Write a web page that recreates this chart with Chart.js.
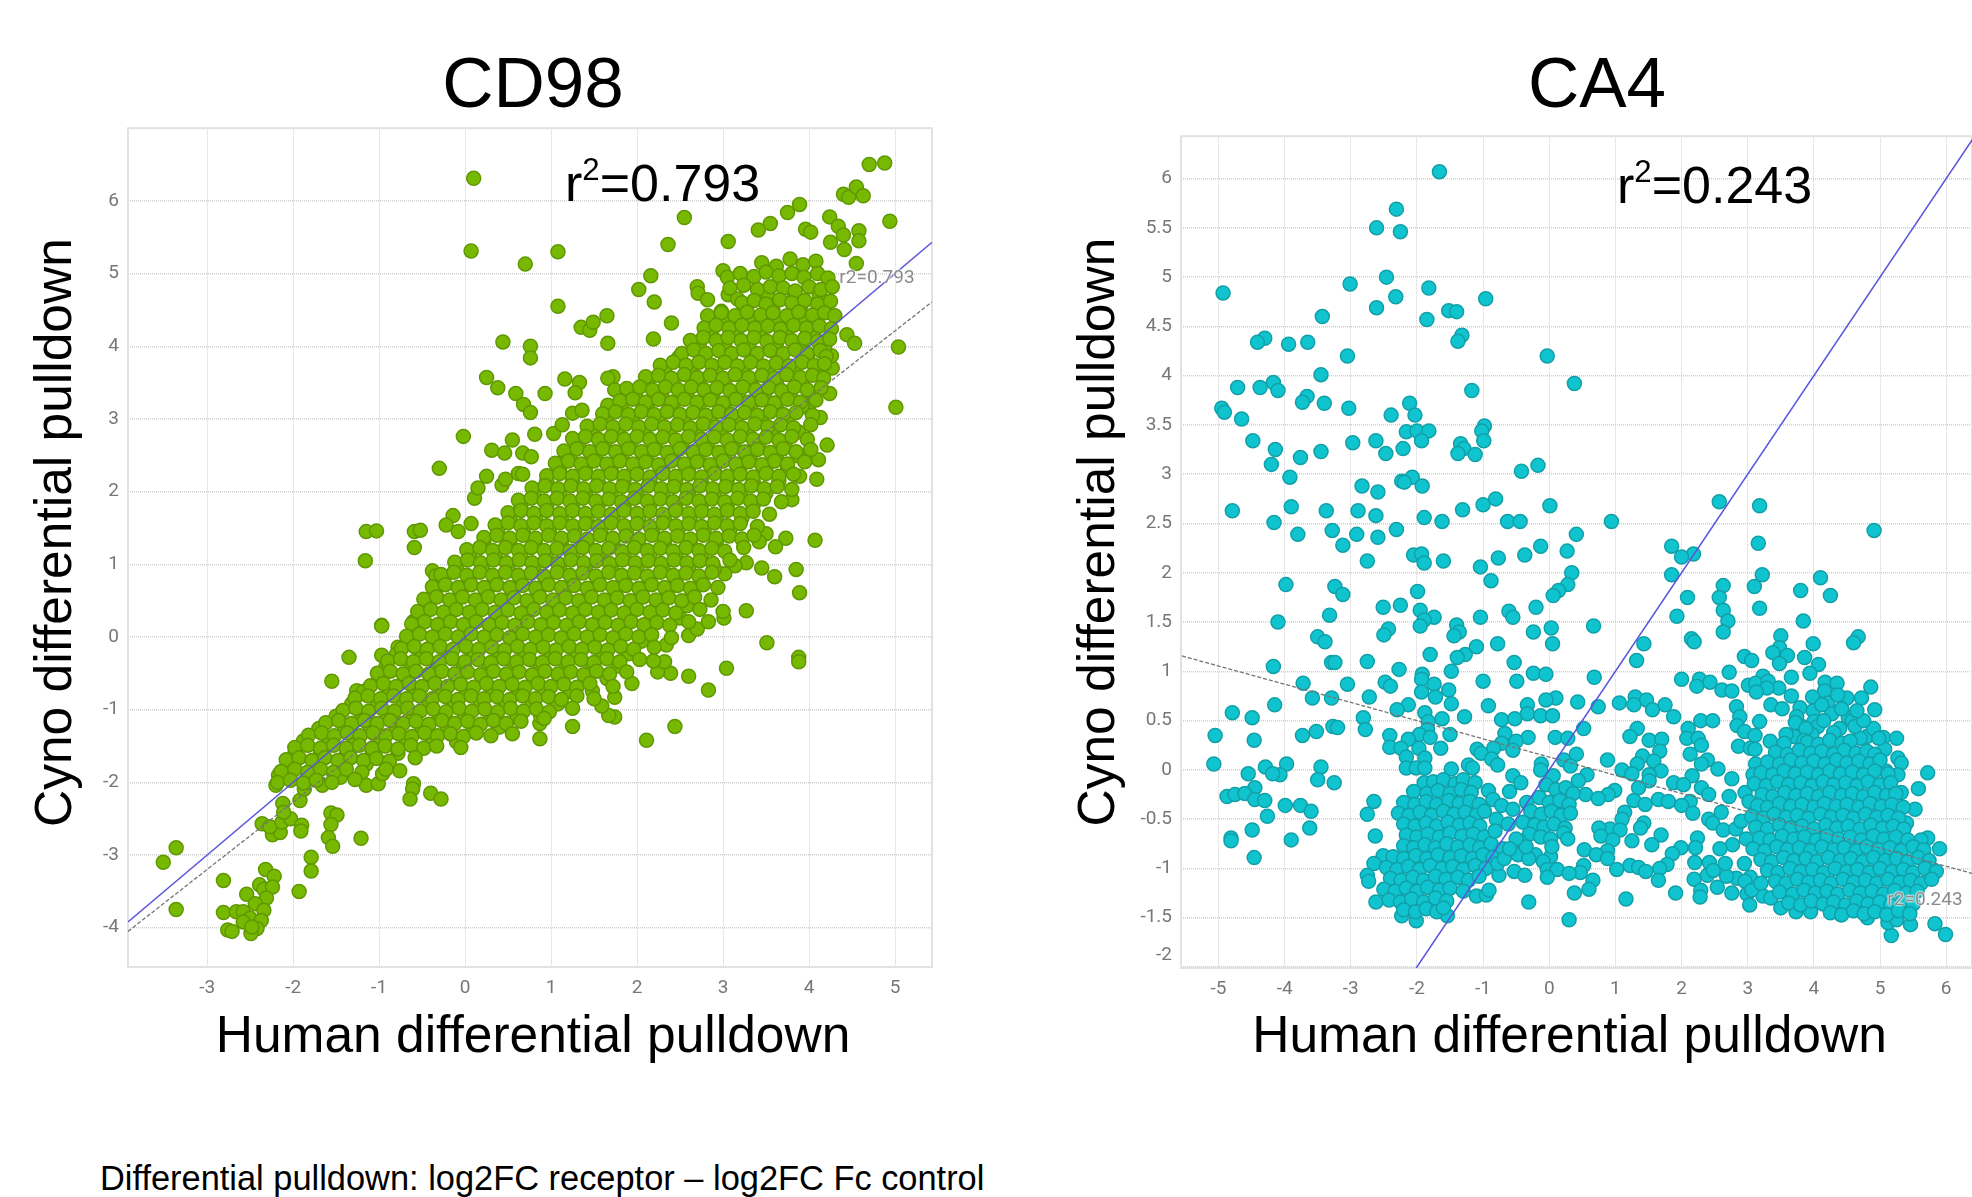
<!DOCTYPE html>
<html><head><meta charset="utf-8"><title>CD98 and CA4 differential pulldown</title>
<script src="https://cdn.jsdelivr.net/npm/chart.js@4"></script>
<style>
html,body{margin:0;padding:0;background:#fff;width:1972px;height:1197px;overflow:hidden}
canvas{position:absolute;top:0}
.big{position:absolute;font:52px/52px "Liberation Sans",Arial,sans-serif;color:#000;white-space:nowrap}
.big sup{font-size:.6em;line-height:0;vertical-align:baseline;position:relative;top:-.68em}
.small{position:absolute;font:19px "Roboto",sans-serif;color:#8a8a8a;transform:translate(-50%,-50%);white-space:nowrap;text-shadow:0 0 2px #fff,0 0 2px #fff,0 0 2px #fff}
.note{position:absolute;left:100px;top:1161px;font:34.4px/34px "Liberation Sans",Arial,sans-serif;color:#000;white-space:nowrap}
</style></head><body>
<canvas id="cd98" width="940" height="1080" style="left:0"></canvas>
<canvas id="ca4" width="932" height="1080" style="left:1040px"></canvas>
<div class="big" style="left:565px;top:157px">r<sup>2</sup>=0.793</div>
<div class="big" style="left:1617px;top:159px">r<sup>2</sup>=0.243</div>
<div class="small" style="left:877px;top:276px">r2=0.793</div>
<div class="small" style="left:1925px;top:898px">r2=0.243</div>
<div class="note">Differential pulldown: log2FC receptor – log2FC Fc control</div>
<script>
const cd98XTicks=[-3,-2,-1,0,1,2,3,4,5];
const cd98YTicks=[-4,-3,-2,-1,0,1,2,3,4,5,6];
const ca4XTicks=[-5,-4,-3,-2,-1,0,1,2,3,4,5,6];
const ca4YTicks=[-2,-1.5,-1,-0.5,0,0.5,1,1.5,2,2.5,3,3.5,4,4.5,5,5.5,6];
const cd98Identity=[[-3.92,-3.92],[5.43,5.43]];
const cd98Trend=[[-3.92,-4.05],[5.43,4.61]];
const ca4Identity=[[-2.01,-2.01],[6.43,6.43]];
const ca4Trend=[[-5.55,1.156],[6.39,-1.05]];
const cd98Outliers=[[.1,6.31],[.07,5.31],[1.08,5.3],[.7,5.13],[1.08,4.55],[.44,4.06],[.76,4],[.76,3.84],[.25,3.57],[.38,3.43],[.59,3.35],[.68,3.2],[.76,3.09],[.93,3.35],[1.16,3.55],[1.33,3.5],[1.28,3.36],[-.02,2.76],[-.3,2.32],[2.55,5.77],[2.36,5.4],[3.06,5.44],[2.16,4.97],[2.02,4.78],[2.2,4.61],[1.65,4.42],[1.35,4.26],[1.45,4.22],[1.49,4.33],[1.66,4.04],[2.4,4.32],[2.19,4.1],[4.7,6.5],[4.88,6.52],[4.4,6.09],[4.46,6.05],[4.55,6.19],[4.63,6.07],[3.89,5.95],[3.75,5.84],[3.55,5.69],[3.41,5.6],[4.94,5.72],[4.24,5.78],[3.96,5.61],[4.02,5.57],[4.34,5.65],[4.4,5.53],[4.58,5.59],[4.58,5.45],[4.41,5.33],[4.25,5.43],[5.04,3.99],[5.01,3.16],[4.44,4.16],[4.53,4.04],[4.55,5.14],[3,5.04],[2.7,4.82],[2.71,4.73],[2.82,4.64],[3.06,4.71],[3.17,4.65],[2.98,4.48],
[-1.15,1.45],[-1.03,1.46],[-.59,1.45],[-.52,1.47],[-.59,1.23],[-1.16,1.05],[-.97,.16],[-.6,.21],[-.14,1.67],[-.22,1.54],[-.08,1.45],[-.38,.91],[-.34,.84],[.07,1.56],[.11,1.91],[.15,2.05],[.25,2.21],[.43,2.09],[.47,2.17],[.62,2.25],[.67,2.24],[.31,2.57],[.46,2.53],[.55,2.71],[.67,2.53],[.77,2.48],[1.03,2.8],[.81,2.79],[1.13,2.92],[1.25,3.08],[1.36,3.12],[1.66,3.19],[1.72,3.58],[1.66,3.56],[1.74,3.4],
[4.07,1.33],[3.89,.61],[3.85,.93],[3.6,.83],[3.45,.95],[3.27,1.02],[3.14,.98],[3.02,.87],[3.73,1.36],[3.61,1.24],[3.5,1.42],[3.42,1.31],[3.27,.36],[3.01,.26],[3,.35],[4.09,2.17],[3.89,2.21],[4.11,2.44],[4.21,2.64],[4.13,3.02],[4.24,3.35],[4.27,3.7],[4.26,3.87],[3.8,1.89],[3.99,3.15],
[3.51,-.08],[3.88,-.28],[3.88,-.34],[3.04,-.43],[2.6,-.54],[2.39,-.5],[2.83,-.73],[2.44,-1.23],[2.11,-1.42],[1.25,-1.23],[.87,-1.4],[.87,-1.19],[1.74,-1.1],[1.67,-1.08],[1.59,-.95],[1.74,-.83],[1.94,-.64],[2.24,-.48],[2.32,-.34],[2.19,-.33],[2.34,-.11],[2.6,.02],[2.7,.11],[2.83,.21],[-1.35,-.28],[-1.55,-.61],[-1.26,-.74],[-.97,.15],[-.97,-.25],[-.79,-.25],[-.78,-.14],[-.6,.21],[-.6,-2.02],[-.61,-2.09],[-.64,-2.23],[-.4,-2.15],[-.28,-2.23],[-1.56,-2.42],[-1.49,-2.45],[-1.56,-2.58],[-1.59,-2.76],[-1.54,-2.88],[-1.21,-2.77],[-1.79,-3.03],[-1.79,-3.22],[-1.93,-3.5],[-2.32,-3.2],[-2.22,-3.29],[-2.39,-3.41],[-2.34,-3.47],[-2.24,-3.44],[-2.31,-3.59],[-2.54,-3.54],[-2.44,-3.67],[-2.81,-3.35],[-2.81,-3.79],[-2.66,-3.78],[-2.58,-3.78],[-2.34,-3.76],[-2.5,-3.87],[-2.58,-3.92],[-2.37,-3.9],[-2.76,-4.03],[-2.71,-4.05],[-2.42,-4.01],[-2.49,-4.08],[-2.48,-3.99],[-3.36,-2.9],[-3.51,-3.1],[-3.36,-3.75],[-2.36,-2.57],[-2.24,-2.72],[-2.15,-2.69],[-2.27,-2.61],[-2.13,-2.55],[-2.03,-2.5],[-1.9,-2.59],[-1.91,-2.67],[-2.12,-2.29],[-2.11,-2.41],[-1.92,-2.25],[-2.2,-2.04],[-2.17,-1.9],[-1.66,-2.04],[-1.87,-2.09],[-1.15,-2.04],[-1.01,-2.02],[-.96,-1.88],[-.76,-1.84],[-1.45,-1.93]];
const cd98Filler=[[3.52,4.72],[3.83,4.69],[4.12,4.71],[3.25,4.53],[3.58,4.51],[3.9,4.54],[4.18,4.52],[3.02,4.36],[3.33,4.35],[3.62,4.37],[3.95,4.34],[2.86,4.18],[3.15,4.19],[3.44,4.17],[3.74,4.2],[4.05,4.17],[2.72,4.01],[3.02,4.02],[3.3,4],[3.62,4.03],[3.92,4],[4.18,3.99],[2.48,3.84],[2.78,3.85],[3.08,3.83],[3.38,3.86],[3.68,3.84],[3.98,3.85],[2.32,3.67],[2.62,3.68],[2.92,3.66],[3.22,3.69],[3.52,3.67],[3.82,3.68],[4.12,3.66],[2.12,3.5],[2.42,3.51],[2.72,3.49],[3.02,3.52],[3.32,3.5],[3.62,3.51],[3.92,3.49],[1.98,3.33],[2.28,3.34],[2.58,3.32],[2.88,3.35],[3.18,3.33],[3.48,3.34],[3.78,3.32],[4.04,3.34],[1.82,3.16],[2.12,3.17],[2.42,3.15],[2.72,3.18],[3.02,3.16],[3.32,3.17],[3.62,3.15],[3.92,3.18],[1.65,2.99],[1.95,3],[2.25,2.98],[2.55,3.01],[2.85,2.99],[3.15,3],[3.45,2.98],[3.75,3.01],[1.48,2.82],[1.78,2.83],[2.08,2.81],[2.38,2.84],[2.68,2.82],[2.98,2.83],[3.28,2.81],[3.58,2.84],[3.88,2.82],[1.32,2.65],[1.62,2.66],[1.92,2.64],[2.22,2.67],[2.52,2.65],[2.82,2.66],[3.12,2.64],[3.42,2.67],[3.72,2.65],[1.22,2.48],[1.52,2.49],[1.82,2.47],[2.12,2.5],[2.42,2.48],[2.72,2.49],[3.02,2.47],[3.32,2.5],[3.62,2.48],[3.88,2.49],[1.1,2.31],[1.4,2.32],[1.7,2.3],[2,2.33],[2.3,2.31],[2.6,2.32],[2.9,2.3],[3.2,2.33],[3.5,2.31],[3.75,2.32],[.95,2.14],[1.25,2.15],[1.55,2.13],[1.85,2.16],[2.15,2.14],[2.45,2.15],[2.75,2.13],[3.05,2.16],[3.35,2.14],[3.65,2.15],[.8,1.97],[1.1,1.98],[1.4,1.96],[1.7,1.99],[2,1.97],[2.3,1.98],[2.6,1.96],[2.9,1.99],[3.2,1.97],[3.5,1.98],[.65,1.8],[.95,1.81],[1.25,1.79],[1.55,1.82],[1.85,1.8],[2.15,1.81],[2.45,1.79],[2.75,1.82],[3.05,1.8],[3.35,1.81],[.52,1.63],[.82,1.64],[1.12,1.62],[1.42,1.65],[1.72,1.63],[2.02,1.64],[2.32,1.62],[2.62,1.65],[2.92,1.63],[3.22,1.64],[.38,1.46],[.68,1.47],[.98,1.45],[1.28,1.48],[1.58,1.46],[1.88,1.47],[2.18,1.45],[2.48,1.48],[2.78,1.46],[3.08,1.47],[.22,1.29],[.52,1.3],[.82,1.28],[1.12,1.31],[1.42,1.29],[1.72,1.3],[2.02,1.28],[2.32,1.31],[2.62,1.29],[2.92,1.3],[.05,1.12],[.35,1.13],[.65,1.11],[.95,1.14],[1.25,1.12],[1.55,1.13],[1.85,1.11],[2.15,1.14],[2.45,1.12],[2.75,1.13],[-.1,.95],[.2,.96],[.5,.94],[.8,.97],[1.1,.95],[1.4,.96],[1.7,.94],[2,.97],[2.3,.95],[2.6,.96],[2.9,.94],[-.25,.78],[.05,.79],[.35,.77],[.65,.8],[.95,.78],[1.25,.79],[1.55,.77],[1.85,.8],[2.15,.78],[2.45,.79],[2.75,.77],[-.35,.61],[-.05,.62],[.25,.6],[.55,.63],[.85,.61],[1.15,.62],[1.45,.6],[1.75,.63],[2.05,.61],[2.35,.62],[2.65,.6],[-.42,.44],[-.12,.45],[.18,.43],[.48,.46],[.78,.44],[1.08,.45],[1.38,.43],[1.68,.46],[1.98,.44],[2.28,.45],[2.58,.43],[-.5,.27],[-.2,.28],[.1,.26],[.4,.29],[.7,.27],[1,.28],[1.3,.26],[1.6,.29],[1.9,.27],[2.2,.28],[2.5,.26],[-.58,.1],[-.28,.11],[.02,.09],[.32,.12],[.62,.1],[.92,.11],[1.22,.09],[1.52,.12],[1.82,.1],[2.12,.11],[-.65,-.07],[-.35,-.06],[-.05,-.08],[.25,-.05],[.55,-.07],[.85,-.06],[1.15,-.08],[1.45,-.05],[1.75,-.07],[2.05,-.06],[-.8,-.24],[-.5,-.23],[-.2,-.25],[.1,-.22],[.4,-.24],[.7,-.23],[1,-.25],[1.3,-.22],[1.6,-.24],[1.9,-.23],[-.92,-.41],[-.62,-.4],[-.32,-.42],[-.02,-.39],[.28,-.41],[.58,-.4],[.88,-.42],[1.18,-.39],[1.48,-.41],[1.78,-.4],[-1,-.58],[-.7,-.57],[-.4,-.59],[-.1,-.56],[.2,-.58],[.5,-.57],[.8,-.59],[1.1,-.56],[1.4,-.58],[1.65,-.57],[-1.18,-.75],[-.88,-.74],[-.58,-.76],[-.28,-.73],[.02,-.75],[.32,-.74],[.62,-.76],[.92,-.73],[1.22,-.75],[1.48,-.74],[-1.32,-.92],[-1.02,-.91],[-.72,-.93],[-.42,-.9],[-.12,-.92],[.18,-.91],[.48,-.93],[.78,-.9],[1.08,-.92],[-1.5,-1.09],[-1.2,-1.08],[-.9,-1.1],[-.6,-1.07],[-.3,-1.09],[0,-1.08],[.3,-1.1],[.6,-1.07],[.88,-1.09],[-1.7,-1.26],[-1.4,-1.25],[-1.1,-1.27],[-.8,-1.24],[-.5,-1.26],[-.2,-1.25],[.1,-1.27],[.4,-1.24],[-1.88,-1.43],[-1.58,-1.42],[-1.28,-1.44],[-.98,-1.41],[-.68,-1.43],[-.38,-1.42],[-.1,-1.44],[-1.98,-1.6],[-1.68,-1.59],[-1.38,-1.61],[-1.08,-1.58],[-.78,-1.6],[-2.05,-1.77],[-1.75,-1.76],[-1.45,-1.78],[-1.15,-1.75]];
const cd98Core=[[3.45,5.15],[3.62,5.1],[3.78,5.2],[3.93,5.12],[4.08,5.17],
[3.05,4.95],[3.2,5],[3.36,4.96],[3.5,5.02],[3.65,4.97],[3.8,5],[3.94,4.95],[4.1,5],[4.22,4.94],
[3.08,4.8],[3.24,4.84],[3.4,4.78],[3.55,4.82],[3.7,4.8],[3.84,4.76],[4,4.82],[4.14,4.78],[4.27,4.82],
[3.22,4.6],[3.36,4.63],[3.5,4.58],[3.66,4.64],[3.8,4.6],[3.95,4.63],[4.1,4.58],[4.25,4.62],
[2.82,4.42],[2.98,4.46],[3.14,4.42],[3.28,4.47],[3.44,4.43],[3.58,4.46],[3.74,4.42],[3.88,4.47],[4.04,4.43],[4.18,4.46],[4.3,4.42],
[2.78,4.25],[2.92,4.29],[3.07,4.25],[3.22,4.29],[3.37,4.25],[3.52,4.28],[3.67,4.24],[3.82,4.29],[3.97,4.25],[4.12,4.28],[4.26,4.24],
[2.62,4.08],[2.77,4.12],[2.92,4.08],[3.06,4.12],[3.21,4.08],[3.36,4.12],[3.51,4.07],[3.66,4.12],[3.8,4.08],[3.95,4.11],[4.1,4.07],[4.24,4.1],
[2.52,3.9],[2.66,3.95],[2.8,3.9],[2.95,3.94],[3.1,3.9],[3.24,3.95],[3.4,3.9],[3.55,3.94],[3.7,3.9],[3.84,3.95],[3.98,3.9],[4.13,3.94],[4.2,3.86],
[2.27,3.74],[2.42,3.78],[2.57,3.74],[2.72,3.78],[2.87,3.74],[3.02,3.78],[3.17,3.73],[3.32,3.78],[3.47,3.73],[3.62,3.77],[3.77,3.73],[3.92,3.78],[4.06,3.74],[4.18,3.76],
[2.1,3.58],[2.25,3.6],[2.4,3.56],[2.55,3.61],[2.7,3.57],[2.85,3.6],[3,3.56],[3.14,3.61],[3.3,3.57],[3.45,3.6],[3.6,3.56],[3.74,3.61],[3.9,3.57],[4.04,3.6],[4.17,3.56],
[1.88,3.42],[2.03,3.44],[2.18,3.4],[2.33,3.44],[2.48,3.4],[2.63,3.44],[2.78,3.4],[2.93,3.43],[3.08,3.39],[3.23,3.44],[3.38,3.4],[3.53,3.43],[3.68,3.39],[3.83,3.44],[3.98,3.4],[4.14,3.43],
[1.8,3.25],[1.95,3.27],[2.1,3.23],[2.25,3.27],[2.4,3.23],[2.55,3.27],[2.7,3.23],[2.85,3.26],[3,3.22],[3.15,3.27],[3.3,3.23],[3.45,3.26],[3.6,3.22],[3.75,3.27],[3.9,3.23],[4.08,3.26],
[1.6,3.07],[1.75,3.1],[1.9,3.06],[2.05,3.1],[2.2,3.06],[2.35,3.1],[2.5,3.06],[2.65,3.09],[2.8,3.05],[2.95,3.1],[3.1,3.06],[3.25,3.09],[3.4,3.05],[3.55,3.1],[3.7,3.06],[3.85,3.09],[4.04,3.05],
[1.42,2.9],[1.57,2.93],[1.72,2.89],[1.87,2.93],[2.02,2.89],[2.17,2.93],[2.32,2.89],[2.47,2.92],[2.62,2.88],[2.77,2.93],[2.92,2.89],[3.07,2.92],[3.22,2.88],[3.37,2.93],[3.52,2.89],[3.67,2.92],[3.82,2.88],[4.02,2.92],
[1.25,2.73],[1.4,2.76],[1.55,2.72],[1.7,2.76],[1.85,2.72],[2,2.76],[2.15,2.72],[2.3,2.75],[2.45,2.71],[2.6,2.76],[2.75,2.72],[2.9,2.75],[3.05,2.71],[3.2,2.76],[3.35,2.72],[3.5,2.75],[3.65,2.71],[3.8,2.76],[3.98,2.72],
[1.15,2.56],[1.3,2.59],[1.45,2.55],[1.6,2.59],[1.75,2.55],[1.9,2.59],[2.05,2.55],[2.2,2.58],[2.35,2.54],[2.5,2.59],[2.65,2.55],[2.8,2.58],[2.95,2.54],[3.1,2.59],[3.25,2.55],[3.4,2.58],[3.55,2.54],[3.7,2.59],[3.85,2.55],[4.02,2.58],
[1.05,2.39],[1.2,2.42],[1.35,2.38],[1.5,2.42],[1.65,2.38],[1.8,2.42],[1.95,2.38],[2.1,2.41],[2.25,2.37],[2.4,2.42],[2.55,2.38],[2.7,2.41],[2.85,2.37],[3,2.42],[3.15,2.38],[3.3,2.41],[3.45,2.37],[3.6,2.42],[3.75,2.38],[3.95,2.41],
[.95,2.22],[1.1,2.25],[1.25,2.21],[1.4,2.25],[1.55,2.21],[1.7,2.25],[1.85,2.21],[2,2.24],[2.15,2.2],[2.3,2.25],[2.45,2.21],[2.6,2.24],[2.75,2.2],[2.9,2.25],[3.05,2.21],[3.2,2.24],[3.35,2.2],[3.5,2.25],[3.65,2.21],[3.82,2.24],
[.78,2.05],[.93,2.08],[1.08,2.04],[1.23,2.08],[1.38,2.04],[1.53,2.08],[1.68,2.04],[1.83,2.07],[1.98,2.03],[2.13,2.08],[2.28,2.04],[2.43,2.07],[2.58,2.03],[2.73,2.08],[2.88,2.04],[3.03,2.07],[3.18,2.03],[3.33,2.08],[3.48,2.04],[3.63,2.07],[3.8,2.03],
[.62,1.88],[.77,1.91],[.92,1.87],[1.07,1.91],[1.22,1.87],[1.37,1.91],[1.52,1.87],[1.67,1.9],[1.82,1.86],[1.97,1.91],[2.12,1.87],[2.27,1.9],[2.42,1.86],[2.57,1.91],[2.72,1.87],[2.87,1.9],[3.02,1.86],[3.17,1.91],[3.32,1.87],[3.47,1.9],[3.68,1.86],
[.5,1.71],[.65,1.74],[.8,1.7],[.95,1.74],[1.1,1.7],[1.25,1.74],[1.4,1.7],[1.55,1.73],[1.7,1.69],[1.85,1.74],[2,1.7],[2.15,1.73],[2.3,1.69],[2.45,1.74],[2.6,1.7],[2.75,1.73],[2.9,1.69],[3.05,1.74],[3.2,1.7],[3.35,1.73],[3.54,1.69],
[.35,1.54],[.5,1.57],[.65,1.53],[.8,1.57],[.95,1.53],[1.1,1.57],[1.25,1.53],[1.4,1.56],[1.55,1.52],[1.7,1.57],[1.85,1.53],[2,1.56],[2.15,1.52],[2.3,1.57],[2.45,1.53],[2.6,1.56],[2.75,1.52],[2.9,1.57],[3.05,1.53],[3.2,1.56],[3.4,1.52],
[.22,1.37],[.37,1.4],[.52,1.36],[.67,1.4],[.82,1.36],[.97,1.4],[1.12,1.36],[1.27,1.39],[1.42,1.35],[1.57,1.4],[1.72,1.36],[1.87,1.39],[2.02,1.35],[2.17,1.4],[2.32,1.36],[2.47,1.39],[2.62,1.35],[2.77,1.4],[2.92,1.36],[3.07,1.39],[3.22,1.35],[3.36,1.4],
[.02,1.2],[.17,1.23],[.32,1.19],[.47,1.23],[.62,1.19],[.77,1.23],[.92,1.19],[1.07,1.22],[1.22,1.18],[1.37,1.23],[1.52,1.19],[1.67,1.22],[1.82,1.18],[1.97,1.23],[2.12,1.19],[2.27,1.22],[2.42,1.18],[2.57,1.23],[2.72,1.19],[2.87,1.22],[3.02,1.18],[3.24,1.23],
[-.12,1.03],[.03,1.06],[.18,1.02],[.33,1.06],[.48,1.02],[.63,1.06],[.78,1.02],[.93,1.05],[1.08,1.01],[1.23,1.06],[1.38,1.02],[1.53,1.05],[1.68,1.01],[1.83,1.06],[1.98,1.02],[2.13,1.05],[2.28,1.01],[2.43,1.06],[2.58,1.02],[2.73,1.05],[2.88,1.01],[3.08,1.06],
[-.28,.86],[-.13,.89],[.02,.85],[.17,.89],[.32,.85],[.47,.89],[.62,.85],[.77,.88],[.92,.84],[1.07,.89],[1.22,.85],[1.37,.88],[1.52,.84],[1.67,.89],[1.82,.85],[1.97,.88],[2.12,.84],[2.27,.89],[2.42,.85],[2.57,.88],[2.72,.84],[2.87,.89],
[-.38,.69],[-.23,.72],[-.08,.68],[.07,.72],[.22,.68],[.37,.72],[.52,.68],[.67,.71],[.82,.67],[.97,.72],[1.12,.68],[1.27,.71],[1.42,.67],[1.57,.72],[1.72,.68],[1.87,.71],[2.02,.67],[2.17,.72],[2.32,.68],[2.47,.71],[2.62,.67],[2.77,.72],[2.94,.68],
[-.48,.52],[-.33,.55],[-.18,.51],[-.03,.55],[.12,.51],[.27,.55],[.42,.51],[.57,.54],[.72,.5],[.87,.55],[1.02,.51],[1.17,.54],[1.32,.5],[1.47,.55],[1.62,.51],[1.77,.54],[1.92,.5],[2.07,.55],[2.22,.51],[2.37,.54],[2.52,.5],[2.67,.55],[2.86,.51],
[-.55,.35],[-.4,.38],[-.25,.34],[-.1,.38],[.05,.34],[.2,.38],[.35,.34],[.5,.37],[.65,.33],[.8,.38],[.95,.34],[1.1,.37],[1.25,.33],[1.4,.38],[1.55,.34],[1.7,.37],[1.85,.33],[2,.38],[2.15,.34],[2.3,.37],[2.45,.33],[2.73,.38],
[-.62,.18],[-.47,.21],[-.32,.17],[-.17,.21],[-.02,.17],[.13,.21],[.28,.17],[.43,.2],[.58,.16],[.73,.21],[.88,.17],[1.03,.2],[1.18,.16],[1.33,.21],[1.48,.17],[1.63,.2],[1.78,.16],[1.93,.21],[2.08,.17],[2.23,.2],[2.38,.16],[2.6,.21],
[-.68,.01],[-.53,.04],[-.38,0],[-.23,.04],[-.08,0],[.07,.04],[.22,0],[.37,.03],[.52,-.01],[.67,.04],[.82,0],[.97,.03],[1.12,-.01],[1.27,.04],[1.42,0],[1.57,.03],[1.72,-.01],[1.87,.04],[2.02,0],[2.17,.03],[2.4,-.01],
[-.74,-.16],[-.59,-.13],[-.44,-.17],[-.29,-.13],[-.14,-.17],[.01,-.13],[.16,-.17],[.31,-.14],[.46,-.18],[.61,-.13],[.76,-.17],[.91,-.14],[1.06,-.18],[1.21,-.13],[1.36,-.17],[1.51,-.14],[1.66,-.18],[1.81,-.13],[1.96,-.17],[2.2,-.14],
[-.9,-.33],[-.75,-.3],[-.6,-.34],[-.45,-.3],[-.3,-.34],[-.15,-.3],[0,-.34],[.15,-.31],[.3,-.35],[.45,-.3],[.6,-.34],[.75,-.31],[.9,-.35],[1.05,-.3],[1.2,-.34],[1.35,-.31],[1.5,-.35],[1.65,-.3],[1.8,-.34],[2.03,-.31],
[-1.02,-.5],[-.87,-.47],[-.72,-.51],[-.57,-.47],[-.42,-.51],[-.27,-.47],[-.12,-.51],[.03,-.48],[.18,-.52],[.33,-.47],[.48,-.51],[.63,-.48],[.78,-.52],[.93,-.47],[1.08,-.51],[1.23,-.48],[1.38,-.52],[1.53,-.47],[1.68,-.51],[1.88,-.48],
[-1.1,-.67],[-.95,-.64],[-.8,-.68],[-.65,-.64],[-.5,-.68],[-.35,-.64],[-.2,-.68],[-.05,-.65],[.1,-.69],[.25,-.64],[.4,-.68],[.55,-.65],[.7,-.69],[.85,-.64],[1,-.68],[1.15,-.65],[1.3,-.69],[1.45,-.64],[1.72,-.68],
[-1.28,-.84],[-1.13,-.81],[-.98,-.85],[-.83,-.81],[-.68,-.85],[-.53,-.81],[-.38,-.85],[-.23,-.82],[-.08,-.86],[.07,-.81],[.22,-.85],[.37,-.82],[.52,-.86],[.67,-.81],[.82,-.85],[.97,-.82],[1.12,-.86],[1.3,-.81],[1.5,-.85],
[-1.42,-1.01],[-1.27,-.98],[-1.12,-1.02],[-.97,-.98],[-.82,-1.02],[-.67,-.98],[-.52,-1.02],[-.37,-.99],[-.22,-1.03],[-.07,-.98],[.08,-1.02],[.23,-.99],[.38,-1.03],[.53,-.98],[.68,-1.02],[.83,-.99],[.98,-1.03],[1.25,-.98],
[-1.62,-1.18],[-1.47,-1.15],[-1.32,-1.19],[-1.17,-1.15],[-1.02,-1.19],[-.87,-1.15],[-.72,-1.19],[-.57,-1.16],[-.42,-1.2],[-.27,-1.15],[-.12,-1.19],[.03,-1.16],[.18,-1.2],[.33,-1.15],[.48,-1.19],[.65,-1.16],[.92,-1.12],
[-1.82,-1.35],[-1.67,-1.32],[-1.52,-1.36],[-1.37,-1.32],[-1.22,-1.36],[-1.07,-1.32],[-.92,-1.36],[-.77,-1.33],[-.62,-1.37],[-.47,-1.32],[-.32,-1.36],[-.17,-1.33],[-.02,-1.37],[.13,-1.32],[.3,-1.36],[.55,-1.33],
[-1.98,-1.52],[-1.83,-1.49],[-1.68,-1.53],[-1.53,-1.49],[-1.38,-1.53],[-1.23,-1.49],[-1.08,-1.53],[-.93,-1.5],[-.78,-1.54],[-.63,-1.49],[-.48,-1.53],[-.33,-1.5],[-.05,-1.52],
[-2.08,-1.69],[-1.93,-1.66],[-1.78,-1.7],[-1.63,-1.66],[-1.48,-1.7],[-1.33,-1.66],[-1.18,-1.7],[-1.03,-1.67],[-.88,-1.71],[-.58,-1.66],
[-2.14,-1.85],[-1.98,-1.82],[-1.83,-1.86],[-1.68,-1.82],[-1.53,-1.86],[-1.38,-1.82],[-1.2,-1.86],[-.92,-1.82],
[-2.18,-2],[-2.03,-1.97],[-1.88,-2.01],[-1.73,-1.97],[-1.55,-2],[-1.28,-1.96]];
const ca4Scatter=[[-1.66,6.07],[-2.31,5.69],[-2.61,5.5],[-2.25,5.46],[-2.46,5],[-3.01,4.93],[-4.93,4.84],[-1.82,4.89],[-2.32,4.8],[-.96,4.78],[-2.61,4.69],[-1.85,4.57],[-1.52,4.66],[-1.4,4.65],[-3.43,4.6],[-4.3,4.38],[-4.41,4.34],[-3.94,4.32],[-3.65,4.34],[-1.32,4.41],[-1.38,4.35],[-3.05,4.2],[-.03,4.2],[-3.45,4.01],[.38,3.92],[-4.71,3.88],[-4.37,3.88],[-4.17,3.93],[-4.1,3.85],[-3.66,3.79],[-3.73,3.73],[-3.4,3.72],[-1.17,3.85],[-4.95,3.67],[-4.91,3.63],[-3.03,3.67],[-2.11,3.72],[-2.39,3.6],[-2.03,3.6],[-4.65,3.56],[-.98,3.49],[-1.02,3.44],[-2.16,3.43],[-2,3.44],[-1.82,3.44],[-1.93,3.34],[-.99,3.34],[-4.48,3.34],[-2.62,3.34],[-2.97,3.32],[-1.34,3.31],[-1.29,3.26],[-4.14,3.25],[-3.45,3.23],[-2.21,3.26],[-2.47,3.21],[-1.38,3.21],[-1.12,3.2],[-3.76,3.17],[-4.2,3.1],[-.17,3.09],[-.42,3.03],[-3.92,2.97],[-2.07,2.97],[-2.23,2.93],[-2.19,2.92],[-1.92,2.88],[-2.83,2.88],[-2.59,2.82],[-.81,2.75],[2.57,2.72],[3.18,2.68],[-1,2.69],[-1.31,2.64],[.01,2.68],[-3.9,2.67],[-3.37,2.63],[-4.79,2.63],[-2.89,2.63],[-2.62,2.58],[-1.89,2.56],[-1.62,2.52],[-4.16,2.51],[-.63,2.52],[-.44,2.52],[.94,2.52],[4.91,2.43],[-3.28,2.43],[-2.91,2.39],[-3.8,2.39],[-2.59,2.36],[-2.31,2.44],[.41,2.39],[-3.12,2.28],[-.13,2.27],[1.85,2.27],[3.16,2.3],[2.18,2.19],[2,2.16],[.27,2.22],[-.37,2.18],[-.77,2.15],[-2.05,2.18],[-1.93,2.19],[-1.89,2.1],[-1.6,2.12],[-2.75,2.12],[-1.04,2.06],[.34,2],[1.85,1.98],[3.22,1.98],[4.1,1.95],[-.88,1.92],[-3.98,1.88],[.28,1.88],[.14,1.82],[.06,1.77],[-3.24,1.86],[-3.12,1.78],[-1.99,1.81],[2.63,1.87],[3.1,1.86],[3.8,1.82],[4.25,1.77],[2.09,1.75],[2.57,1.75],[-2.51,1.65],[-2.25,1.67],[-1.95,1.62],[-.2,1.65],[-.61,1.61],[-.55,1.55],[2.63,1.62],[3.18,1.64],[-3.32,1.57],[1.93,1.56],[-1.74,1.55],[-1.89,1.52],[-1.04,1.55],[-4.1,1.5],[2.7,1.51],[3.84,1.51],[-1.95,1.46],[-1.4,1.47],[-1.36,1.4],[.03,1.44],[.67,1.46],[-.24,1.4],[-2.43,1.43],[-2.5,1.37],[2.63,1.4],[-3.5,1.35],[-3.39,1.3],
[-1.44,1.36],[2.15,1.33],[2.19,1.3],[3.5,1.36],[3.99,1.28],[4.67,1.35],[4.6,1.29],[.05,1.28],[-.78,1.28],[-1.1,1.25],[1.43,1.28],[3.48,1.24],[3.38,1.19],[3.6,1.16],[3.48,1.08],[2.95,1.15],[3.06,1.11],[3.86,1.14],[4.07,1.07],[-1.8,1.17],[-1.27,1.17],[-1.39,1.14],[-.53,1.09],[1.32,1.11],[-2.75,1.1],[-3.29,1.09],[-3.24,1.09],[-4.17,1.05],[-2.27,1.02],[-1.48,1],[-.24,.98],[-.05,.97],[2.72,.99],[3.94,.98],[-1.92,.97],[-1.93,.92],[-1,.9],[-.49,.9],[.68,.94],[2,.92],[3.66,.94],[2.27,.92],[2.43,.89],[4.17,.89],[4.35,.88],[3.01,.86],[3.23,.95],[3.12,.88],[3.31,.9],[-2.48,.89],[-2.4,.85],[-3.72,.88],[-3.05,.87],[-1.74,.87],[2.23,.85],[4.86,.84],[4.16,.8],[3.47,.83],[3.29,.83],[3.13,.79],[2.61,.81],[2.76,.8],[-1.93,.79],[-1.52,.81],[3.66,.75],[3.98,.74],[4.5,.73],[4.72,.73],[-3.58,.73],[-3.29,.73],[-2.72,.74],[-1.72,.74],[1.3,.74],[.1,.73],[1.47,.71],[-.05,.71],[.43,.69],[1.06,.68],[-4.15,.66],[-2.13,.66],[-1.48,.67],[-.33,.66],[1.28,.66],[1.75,.66],[3.35,.66],[4.21,.68],[-.92,.65],[.74,.64],[2.83,.64],[1.56,.61],[3.79,.63],[-2.3,.61],[4.92,.61],[3.99,.6],[-4.79,.58],[-.33,.57],[-1.88,.58],[4.27,.57],[2.88,.54],[-.13,.55],[.05,.55],[-4.49,.53],[-2.81,.53],[-1.28,.54],[1.88,.54],[3.74,.54],[4.52,.53],[-1.62,.52],[-.72,.51],[-.52,.52],[-1.83,.49],[2.29,.5],[2.47,.5],[3.18,.49],[4,.49],[4.58,.5],[-2.78,.41],[.52,.42],[1.33,.42],[2.1,.42],[2.84,.45],[2.95,.39],[3.82,.44],[4.06,.44],[4.39,.42],[-3.27,.44],[-3.2,.43],[-3.52,.39],[-3.73,.35],[-5.05,.35],[-2.41,.35],[-1.5,.36],[-.67,.37],[-1.84,.41],[3.11,.35],[-1.96,.36],[-.32,.33],[1.22,.34],[.09,.33],[2.08,.32],[2.25,.32],[5.05,.33],[5.25,.32],[.28,.32],[-1.8,.33],[-4.46,.3],[1.51,.3],[1.7,.31],[3.34,.29],[3.7,.34],[3.97,.36],[4.8,.34],[4.7,.32],[-2.13,.31],[-.5,.29],[-.72,.27],[2.3,.25],[2.86,.24],[-2.41,.23],[3.04,.22],[3.11,.21],[5.07,.21],[1.67,.19],[-1.64,.22],[-1.97,.22],[-1.09,.21],[-2.24,.22],[-.55,.2],[-.84,.22],[-1.03,.17],[2.13,.16],[.41,.16],[-1.88,.12],[-2.16,.13],[.88,.1],[-.87,.11],[.22,.1],[2.39,.1],[1.41,.14],[5.27,.12],[5.32,.07],[-3.97,.06],[-5.07,.06],[3.12,.06],[1.33,.06],[-.12,.06],[-1.22,.05],[-1.16,.02],[-.78,.05],[1.58,.09],[-4.29,.03],[-3.45,.03],[-2.16,.02],[-2.01,.02],[-1.88,.02],[-1.48,.01],[2.3,.06],[2.55,.01],[1.1,0],[.32,.04],[5.09,-.01],[5.72,-.03],[1.69,-.01],[1.25,-.04],[1.51,-.05],[-.13,0],[.06,-.06],[-4.55,-.04],[-4.07,-.05],[-4.18,-.04],[-3.5,-.1],[-3.25,-.13],[-.55,-.06],[.57,-.05],[.44,-.11],[2.16,-.06],[1.88,-.13],[2.76,-.09],[3.08,-.05],[-1.89,-.13],[1.51,-.11],[-.43,-.13],[-4.45,-.18],[5.27,-.05],[5.58,-.19],[5.32,-.23],[2.3,-.18],[1.35,-.18],[2.03,-.15],[-.92,-.21],[.99,-.21],[-.6,-.22],[.55,-.25],[-4.87,-.27],[-4.75,-.25],[-4.6,-.24],[-4.45,-.3],[-4.3,-.31],[.89,-.25],[2.72,-.27],[2.41,-.25],[2.96,-.23],[.74,-.29],[1.28,-.31],[1.65,-.3],[1.8,-.32],[2.13,-.32],[2,-.36],[1.45,-.35],[-2.65,-.32],[-.34,-.33],[5.53,-.4],[-3.76,-.36],[-3.99,-.36],[-3.6,-.42],[-2.75,-.45],[-4.26,-.47],[2.17,-.44],[2.6,-.43],[1.14,-.43],[2.41,-.5],[1.1,-.5],[5.4,-.54],[1.43,-.54],[1.38,-.59],[2.47,-.54],[-4.49,-.61],[-3.62,-.59],[2.63,-.61],[2.82,-.6],[.92,-.6],[.75,-.59],[1.07,-.61],[1.69,-.66],[.78,-.67],[.96,-.71],[1.25,-.72],[2.24,-.69],[-2.63,-.67],[-4.81,-.69],[-4.81,-.72],[-3.9,-.71],[1.55,-.76],[2.77,-.76],[5.72,-.69],[5.62,-.71],[5.9,-.8],[2.21,-.79],[1.99,-.79],[.53,-.81],[1.86,-.85],[.88,-.82],[.71,-.86],[-4.46,-.89],[-2.51,-.87],[-.47,-.86],[-.68,-.85],[-.21,-.86],[.02,-.88],[-.31,-.9],[.88,-.9],[-.09,-.93],[2.42,-.94],[2.2,-.94],[.52,-.97],[1.22,-.97],[1.35,-.99],[1.78,-.96],[-2.65,-.95],[1.02,-1.01],[-.03,-1.01],[.12,-1.01],[1.67,-1],[1.46,-1.03],[-.53,-1.03],[-.37,-1.07],[.47,-1.04],[.3,-1.05],[2.83,-1.1],[2.39,-1.07],[2.19,-1.11],[1.65,-1.12],[-.76,-1.07],[-2.75,-1.07],[-2.73,-1.13],[-.03,-1.09],[3.04,-1.09],[2.96,-1.13],[.66,-1.12],[2.68,-1.08],[2.54,-1.19],[.6,-1.21],[.38,-1.25],[2.29,-1.22],[1.91,-1.25],[2.76,-1.25],[2.99,-1.26],[3.23,-1.28],[2.28,-1.29],[-1.1,-1.28],[-.95,-1.27],[-.91,-1.22],[1.16,-1.31],[-.31,-1.34],[-2.62,-1.34],[3.03,-1.37],[.3,-1.52],[3.73,-1.44],[3.86,-1.38],[-2.23,-1.48],[-2.01,-1.53],[-1.54,-1.48],[5.83,-1.56],[5.99,-1.67],[5.17,-1.68],[5.12,-1.55],[5.46,-1.57],[4.81,-1.5],[5.25,-1.52],[4.41,-1.47]];
const ca4LeftCluster=[[-1.75,-.12],[-1.6,-.1],[-1.42,-.14],[-1.3,-.1],[-1.12,-.13],
[-2.05,-.22],[-1.85,-.24],[-1.68,-.21],[-1.5,-.24],[-1.33,-.2],[-1.18,-.23],
[-2.2,-.33],[-2.03,-.35],[-1.86,-.32],[-1.7,-.35],[-1.52,-.31],[-1.36,-.34],[-1.2,-.32],[-1.06,-.35],
[-2.28,-.44],[-2.12,-.46],[-1.95,-.43],[-1.78,-.46],[-1.6,-.42],[-1.44,-.45],[-1.27,-.43],[-1.1,-.46],[-.98,-.42],
[-2.2,-.55],[-2.03,-.57],[-1.86,-.54],[-1.7,-.57],[-1.53,-.53],[-1.36,-.56],[-1.2,-.54],[-1.05,-.57],
[-2.16,-.66],[-2,-.68],[-1.83,-.65],[-1.66,-.68],[-1.5,-.64],[-1.32,-.67],[-1.15,-.65],[-.98,-.68],
[-2.2,-.77],[-2.05,-.79],[-1.88,-.76],[-1.72,-.79],[-1.55,-.75],[-1.38,-.78],[-1.2,-.76],[-1.05,-.79],[-.88,-.75],
[-2.36,-.88],[-2.2,-.9],[-2.02,-.87],[-1.85,-.9],[-1.68,-.86],[-1.5,-.89],[-1.33,-.87],[-1.16,-.9],[-1,-.86],[-.85,-.89],
[-2.46,-.99],[-2.3,-1.01],[-2.13,-.98],[-1.96,-1.01],[-1.8,-.97],[-1.62,-1],[-1.46,-.98],[-1.3,-1.01],[-1.12,-.97],[-.96,-1],
[-2.4,-1.1],[-2.24,-1.12],[-2.06,-1.09],[-1.9,-1.12],[-1.72,-1.08],[-1.56,-1.11],[-1.38,-1.09],[-1.22,-1.12],[-1.06,-1.08],
[-2.5,-1.21],[-2.33,-1.23],[-2.16,-1.2],[-2,-1.23],[-1.84,-1.19],[-1.66,-1.22],[-1.5,-1.2],[-1.3,-1.23],
[-2.42,-1.32],[-2.25,-1.34],[-2.08,-1.31],[-1.9,-1.34],[-1.72,-1.3],[-1.55,-1.33],
[-2.2,-1.42],[-2.02,-1.44],[-1.86,-1.41],[-1.7,-1.44],[-1.6,-1.4]];
const ca4MidCluster=[[-.05,-.15],[.1,-.2],[.25,-.18],[.36,-.24],[-.15,-.28],[0,-.33],[.16,-.31],[.3,-.35],[-.28,-.42],[-.12,-.45],[.03,-.42],[.18,-.46],[.32,-.44],[-.4,-.53],[-.22,-.56],[-.08,-.58],[.07,-.55],[.24,-.59],[-.3,-.65],[-.13,-.68],[.02,-.7],[.22,-.64],[.28,-.7],[.04,-.78],[-.45,-.72],[-.35,-.78],[-.85,-.3],[-.72,-.36],[-.55,-.4],[-.8,-.5],[-.62,-.55],[-.5,-.7],[-.82,-.62],[-.7,-.8],[-.78,-.95],[-.68,-.9],[-.6,-.8]];
const ca4RightCluster=[[3.9,.28],[4.07,.26],[4.24,.3],[4.42,.27],[4.55,.29],
[3.42,.18],[3.6,.16],[3.78,.2],[3.95,.17],[4.12,.19],[4.3,.16],[4.46,.2],[4.64,.17],[4.8,.19],[4.92,.16],
[3.3,.08],[3.48,.06],[3.65,.1],[3.82,.07],[4,.09],[4.17,.06],[4.34,.1],[4.5,.07],[4.68,.09],[4.85,.06],[5,.1],
[3.2,-.03],[3.38,-.05],[3.55,-.01],[3.72,-.04],[3.9,-.02],[4.07,-.05],[4.24,-.01],[4.4,-.04],[4.58,-.02],[4.75,-.05],[4.92,-.01],[5.12,-.04],
[3.1,-.14],[3.28,-.16],[3.45,-.12],[3.62,-.15],[3.8,-.13],[3.97,-.16],[4.14,-.12],[4.3,-.15],[4.48,-.13],[4.65,-.16],[4.82,-.12],[5,-.15],[5.16,-.13],
[3.22,-.25],[3.38,-.27],[3.56,-.23],[3.73,-.26],[3.9,-.24],[4.07,-.27],[4.24,-.23],[4.42,-.26],[4.58,-.24],[4.75,-.27],[4.92,-.23],[5.1,-.26],[5.24,-.24],
[3.15,-.36],[3.3,-.38],[3.48,-.34],[3.65,-.37],[3.82,-.35],[4,-.38],[4.16,-.34],[4.34,-.37],[4.5,-.35],[4.68,-.38],[4.85,-.34],[5.02,-.37],[5.18,-.35],[5.35,-.38],
[3.06,-.47],[3.24,-.49],[3.4,-.45],[3.58,-.48],[3.75,-.46],[3.92,-.49],[4.1,-.45],[4.26,-.48],[4.44,-.46],[4.6,-.49],[4.78,-.45],[4.95,-.48],[5.12,-.46],[5.28,-.49],
[3.12,-.58],[3.3,-.6],[3.48,-.56],[3.65,-.59],[3.82,-.57],[4,-.6],[4.18,-.56],[4.35,-.59],[4.52,-.57],[4.7,-.6],[4.86,-.56],[5.04,-.59],[5.2,-.57],[5.36,-.6],
[3.18,-.69],[3.34,-.71],[3.52,-.67],[3.7,-.7],[3.86,-.68],[4.04,-.71],[4.2,-.67],[4.38,-.7],[4.55,-.68],[4.72,-.71],[4.9,-.67],[5.06,-.7],[5.24,-.68],[5.42,-.71],
[3.08,-.8],[3.26,-.82],[3.44,-.78],[3.6,-.81],[3.78,-.79],[3.95,-.82],[4.12,-.78],[4.3,-.81],[4.46,-.79],[4.64,-.82],[4.8,-.78],[4.98,-.81],[5.15,-.79],[5.32,-.82],[5.5,-.78],[5.66,-.81],
[3.2,-.91],[3.36,-.93],[3.54,-.89],[3.7,-.92],[3.88,-.9],[4.05,-.93],[4.22,-.89],[4.4,-.92],[4.56,-.9],[4.74,-.93],[4.9,-.89],[5.08,-.92],[5.25,-.9],[5.42,-.93],[5.58,-.89],[5.74,-.92],
[3.3,-1.02],[3.46,-1.04],[3.64,-1],[3.8,-1.03],[3.98,-1.01],[4.15,-1.04],[4.32,-1],[4.5,-1.03],[4.66,-1.01],[4.84,-1.04],[5,-1],[5.18,-1.03],[5.35,-1.01],[5.5,-1.04],[5.68,-1],[5.85,-1.03],
[3.42,-1.13],[3.58,-1.15],[3.75,-1.11],[3.92,-1.14],[4.1,-1.12],[4.26,-1.15],[4.44,-1.11],[4.6,-1.14],[4.78,-1.12],[4.95,-1.15],[5.12,-1.11],[5.3,-1.14],[5.46,-1.12],[5.62,-1.15],[5.78,-1.11],
[3.48,-1.24],[3.68,-1.26],[3.85,-1.22],[4.02,-1.25],[4.2,-1.23],[4.36,-1.26],[4.54,-1.22],[4.7,-1.25],[4.88,-1.23],[5.05,-1.26],[5.22,-1.22],[5.4,-1.25],[5.56,-1.23],
[3.62,-1.35],[3.8,-1.37],[3.96,-1.33],[4.14,-1.36],[4.3,-1.34],[4.48,-1.37],[4.65,-1.33],[4.82,-1.36],[5,-1.34],[5.16,-1.37],[5.34,-1.33],[5.5,-1.36],
[4.25,-1.45],[4.42,-1.47],[4.6,-1.43],[4.76,-1.46],[4.92,-1.44],[5.1,-1.47],[5.28,-1.43],[5.45,-1.46]];
const ca4RightUpper=[[3.72,.48],[3.88,.42],[4.15,.5],[4.3,.38],[4.62,.44],[4.9,.42],[3.58,.36],[3.85,.3],[4.75,.5],[4.98,.32],[3.52,.62],[4.12,.66],[4.42,.62],[4.65,.6],[4.36,.76],[3.55,.27],[3.02,-.32],[2.9,-.52],[2.98,-.7],[2.95,-.95],[3.06,-1.22],[3.2,-1.15],[3.35,-1.3],[3.5,-1.4],[3.95,-1.44],[2.58,-.8],[2.48,-1.02],[2.66,-.95]];

const toXY=a=>a.map(p=>({x:p[0],y:p[1]}));
const plotFrame={id:'plotFrame',beforeDatasetsDraw(c){const a=c.chartArea,g=c.ctx;g.save();g.strokeStyle='#e2e2e2';g.lineWidth=2;g.strokeRect(a.left,a.top,a.width,a.height);g.restore();}};
const nudge={id:'nudge',afterLayout(c,_,o){
  if(c.titleBlock){c.titleBlock.left+=o.titleDx;c.titleBlock.right+=o.titleDx;c.titleBlock.top+=o.titleDy;c.titleBlock.bottom+=o.titleDy;}
  [['x',o.xDx,0],['y',0,o.yDy]].forEach(([k,dx,dy])=>{const s=c.scales[k];if(s._nudged)return;s._nudged=true;const d=s.drawTitle;
    s.drawTitle=function(){c.ctx.save();c.ctx.translate(dx,dy);d.call(this);c.ctx.restore();};});
}};
function axis(ticks,min,max,size,labelPad,title,titlePad,gridWidth,labelFn){
  return {type:'linear',min,max,
    afterBuildTicks:s=>{s.ticks=ticks.map(v=>({value:v}));},
    afterFit:s=>{if(s.isHorizontal())s.height=size;else s.width=size;},
    grid:{color:'#cfcfcf',lineWidth:gridWidth,drawTicks:false},
    border:{display:false,dash:[1,1]},
    ticks:{autoSkip:false,maxRotation:0,padding:labelPad,color:'#777777',font:{family:'Roboto',size:19},callback:labelFn||(v=>String(v))},
    title:{display:true,text:title,color:'#000',padding:titlePad,font:{family:'Liberation Sans',size:51.5,weight:'normal'}}};
}
function draw(id,name,sets,fill,stroke,identity,trend,x,y,titlePad,right,nudgeOpts){
  new Chart(document.getElementById(id),{type:'scatter',
    data:{datasets:[
      {label:'Identity',data:toXY(identity),showLine:true,pointRadius:0,borderColor:'#5a55dc',borderWidth:1.5,order:0},
      {label:'Trend',data:toXY(trend),showLine:true,pointRadius:0,borderColor:'#757575',borderWidth:1.3,borderDash:[4,2],order:0},
      {label:name,data:toXY(sets.flat()),pointRadius:7,pointBorderWidth:1.5,pointBackgroundColor:fill,pointBorderColor:stroke,order:1}
    ]},
    options:{responsive:false,animation:false,layout:{autoPadding:false,padding:{right}},
      plugins:{legend:{display:false},tooltip:{enabled:false},
        title:{display:true,text:name,color:'#000',padding:titlePad,font:{family:'Liberation Sans',size:71,weight:'normal'}},
        nudge:nudgeOpts},
      scales:{x,y}},
    plugins:[plotFrame,nudge]});
}
draw('cd98','CD98',[cd98Outliers,cd98Filler,cd98Core],'#77b900','#5f9800',cd98Identity,cd98Trend,
  axis(cd98XTicks,-3.92,5.43,113,10,'Human differential pulldown',{top:0,bottom:11},1),
  axis(cd98YTicks,-4.54,7,128,9,'Cyno differential pulldown',{top:25.5,bottom:0},1.5),
  {top:43,bottom:0},8,{titleDx:67,titleDy:1.5,xDx:3,yDy:-15});
draw('ca4','CA4',[ca4Scatter,ca4RightUpper,ca4LeftCluster,ca4MidCluster,ca4RightCluster],'#10c4cf','#12a0a8',ca4Identity,ca4Trend,
  axis(ca4XTicks,-5.566,6.39,112,10,'Human differential pulldown',{top:0,bottom:11},1),
  axis(ca4YTicks,-2.01,6.43,141,9,'Cyno differential pulldown',{top:28.5,bottom:0},1.5,v=>v===-2?['-2','']:String(v)),
  {top:43,bottom:8},0,{titleDx:91,titleDy:1.5,xDx:-7,yDy:-20});
</script></body></html>
